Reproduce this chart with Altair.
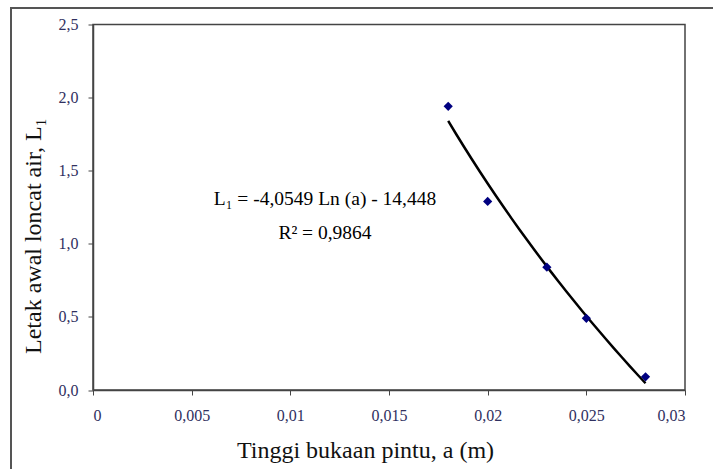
import altair as alt
import pandas as pd

# data
opening = [0.018, 0.020, 0.023, 0.025, 0.028]
jump_start = [1.94, 1.29, 0.84, 0.49, 0.09]
x_ticks = [0, 0.005, 0.01, 0.015, 0.02, 0.025, 0.03]
y_ticks = [0, 0.5, 1.0, 1.5, 2.0, 2.5]
eq_lines = ["L\u2081 = -4,0549 Ln (a) - 14,448", "R\u00b2 = 0,9864"]
x_title = "Tinggi bukaan pintu, a (m)"
y_title = "Letak awal loncat air, L\u2081"

df = pd.DataFrame({"a": opening, "L": jump_start})

FONT = "Liberation Serif"
LABEL_COLOR = "#303060"
W, H = 592, 365.5

x_enc = alt.X("a:Q", scale=alt.Scale(domain=[0, 0.03], nice=False, zero=False),
              axis=alt.Axis(values=x_ticks, title=x_title,
                            labelExpr="replace(format(datum.value, '~g'), '.', ',')",
                            grid=False, tickSize=5, labelPadding=12,
                            labelFont=FONT, labelFontSize=16, labelColor=LABEL_COLOR,
                            titleFont=FONT, titleFontSize=24, titleFontWeight="normal",
                            titleColor="#111111", titleX=272, titleY=60,
                            titleBaseline="middle", titleAlign="center",
                            domainColor="#444444", tickColor="#444444", domainWidth=1.5))
y_enc = alt.Y("L:Q", scale=alt.Scale(domain=[0, 2.5], nice=False, zero=False),
              axis=alt.Axis(values=y_ticks, title=y_title,
                            labelExpr="replace(format(datum.value, '.1f'), '.', ',')",
                            grid=False, tickSize=5, labelPadding=10,
                            labelFont=FONT, labelFontSize=16, labelColor=LABEL_COLOR,
                            titleFont=FONT, titleFontSize=24, titleFontWeight="normal",
                            titleColor="#111111", titleAngle=-90, titleX=-60, titleY=211,
                            titleBaseline="middle", titleAlign="center",
                            domainColor="#444444", tickColor="#444444", domainWidth=1.5))

base = alt.Chart(df)

trend = base.transform_regression(
    "a", "L", method="log", extent=[0.018, 0.028]
).mark_line(color="black", strokeWidth=2.5).encode(x=x_enc, y=y_enc)

points = base.mark_point(shape="diamond", filled=True, color="#000080", size=85, opacity=1).encode(
    x=x_enc, y=y_enc)

one = pd.DataFrame({"k": [0]})
frame = alt.Chart(one).mark_rect(fill=None, stroke="#555555", strokeWidth=2).encode(
    x=alt.value(-82), x2=alt.value(800), y=alt.value(-16.5), y2=alt.value(600))

eq1 = alt.Chart(one).mark_text(text=eq_lines[0], font=FONT, fontSize=19.5, color="black",
                               align="center", baseline="middle").encode(
    x=alt.value(232), y=alt.value(174))
eq2 = alt.Chart(one).mark_text(text=eq_lines[1], font=FONT, fontSize=19.5, color="black",
                               align="center", baseline="middle").encode(
    x=alt.value(232), y=alt.value(208))

chart = alt.layer(frame, trend, points, eq1, eq2).properties(
    width=W, height=H,
    autosize=alt.AutoSizeParams(type="none"),
    padding={"left": 93, "top": 24.5, "right": 28, "bottom": 79},
    background="white",
).configure_view(stroke="#444444", strokeWidth=1.5)

chart.save("out.html", embed_options={"renderer": "svg", "actions": False})
